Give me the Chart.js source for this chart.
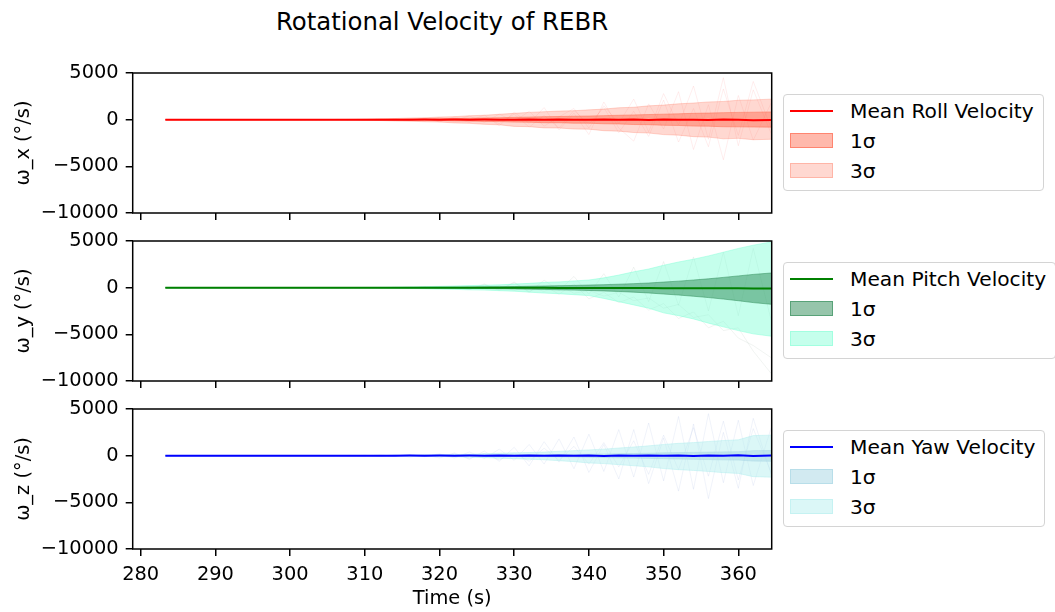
<!DOCTYPE html>
<html>
<head>
<meta charset="utf-8">
<script src="https://cdn.jsdelivr.net/npm/chart.js@4/dist/chart.umd.min.js"></script>
<style>
body{margin:0;background:#fff;font-family:"DejaVu Sans",sans-serif;}
#wrap{position:relative;width:1055px;height:612px;overflow:hidden;}
.panel{position:absolute;left:0;width:774px;}
#title{position:absolute;left:0;width:884px;top:7px;text-align:center;font-size:24.4px;color:#000;}
.legend{position:absolute;left:782.5px;border:1px solid #d4d4d4;border-radius:4px;background:rgba(255,255,255,0.8);padding:0.5px 9px 4px 6.5px;box-sizing:border-box;height:97px;}
.row{height:30px;display:flex;align-items:center;font-size:20.2px;white-space:nowrap;color:#000;}
.sw{width:43px;height:15.6px;box-sizing:border-box;margin-right:17px;flex-shrink:0;}
.ln{width:43px;height:0;border-top:2px solid;margin-right:17px;flex-shrink:0;}
</style>
</head>
<body>
<div id="wrap">
  <div id="title">Rotational Velocity of REBR</div>
  <div class="panel" style="top:42.7px;height:200px;"><canvas id="roll"></canvas></div>
  <div class="panel" style="top:210.7px;height:200px;"><canvas id="pitch"></canvas></div>
  <div class="panel" style="top:378.7px;height:232px;"><canvas id="yaw"></canvas></div>
  <div class="legend" style="top:94px;">
    <div class="row"><div class="ln" style="border-color:#ff0000"></div>Mean Roll Velocity</div>
    <div class="row"><div class="sw" style="background:rgba(255,99,71,0.45);border:1px solid rgba(255,99,71,0.6)"></div>1σ</div>
    <div class="row"><div class="sw" style="background:rgba(255,99,71,0.25);border:1px solid rgba(255,99,71,0.3)"></div>3σ</div>
  </div>
  <div class="legend" style="top:262px;">
    <div class="row"><div class="ln" style="border-color:#008000"></div>Mean Pitch Velocity</div>
    <div class="row"><div class="sw" style="background:rgba(46,139,87,0.5);border:1px solid rgba(46,139,87,0.6)"></div>1σ</div>
    <div class="row"><div class="sw" style="background:rgba(127,255,212,0.45);border:1px solid rgba(127,255,212,0.5)"></div>3σ</div>
  </div>
  <div class="legend" style="top:430px;">
    <div class="row"><div class="ln" style="border-color:#0000ff"></div>Mean Yaw Velocity</div>
    <div class="row"><div class="sw" style="background:rgba(173,216,230,0.55);border:1px solid rgba(173,216,230,0.7)"></div>1σ</div>
    <div class="row"><div class="sw" style="background:rgba(175,238,238,0.45);border:1px solid rgba(175,238,238,0.5)"></div>3σ</div>
  </div>
</div>
<script>
// time samples (s)
const time = [283.3,290,300,306,308,310,312,314,316,318,320,322,324,326,328,330,332,334,336,338,340,342,344,346,348,350,352,354,356,358,360,362,364.4];
const xTicks = [280,290,300,310,320,330,340,350,360];
const yTicks = [-10000,-5000,0,5000];

// roll (deg/s)
const rollMean = [0,0,0,0,0,0,0,0,0,5,-5,10,-10,5,0,-20,10,-15,20,-10,0,30,-20,10,-30,20,-10,0,-40,30,-20,-50,-30];
const roll1Hi = [0,0,0,8,15,25,35,50,65,80,100,120,150,180,210,250,280,320,340,370,390,430,470,510,550,590,630,680,710,750,780,800,830];
const roll1Lo = [0,0,0,-8,-15,-25,-35,-50,-60,-85,-95,-130,-145,-190,-200,-260,-270,-330,-330,-380,-380,-440,-460,-520,-540,-600,-620,-690,-700,-760,-770,-790,-800];
const roll3Hi = [0,0,0,20,40,60,100,120,180,200,280,320,420,470,580,680,780,850,920,960,1050,1130,1280,1330,1480,1560,1700,1780,1900,1950,2080,2120,2200];
const roll3Lo = [0,0,0,-20,-40,-70,-90,-140,-160,-220,-250,-350,-390,-500,-550,-720,-750,-880,-890,-1000,-1020,-1180,-1230,-1380,-1430,-1600,-1660,-1820,-1870,-2050,-2000,-2150,-2100];
const rollRunA = [0,0,0,0,20,-30,60,-80,120,-150,250,-100,400,-300,600,-200,900,-700,300,1200,-900,1500,-400,2200,-1300,2800,-600,3600,-2100,4500,-2800,3200,-1500];
const rollRunB = [0,0,0,0,-10,30,-50,90,-120,180,-260,330,-150,500,-650,800,-400,1300,-1100,700,-1600,1900,-900,-2300,1700,-1000,3000,-3200,1600,-4300,2600,-2200,1800];
const rollRunC = [0,0,0,10,-20,40,-30,70,-60,100,-180,220,-300,200,-420,600,-800,450,-900,1000,-500,1300,-1400,900,-1800,2100,-2400,1200,-2900,3300,-1700,4100,-900];

// pitch (deg/s)
const pitchMean = [0,0,0,0,0,0,0,0,0,0,-5,-5,-10,-10,-15,-15,-20,-20,-25,-30,-30,-35,-40,-40,-45,-50,-55,-60,-65,-70,-75,-80,-85];
const pitch1Hi = [0,0,0,3,5,8,12,18,25,35,45,55,70,85,100,120,150,180,210,240,280,320,370,430,500,600,700,820,950,1100,1260,1420,1570];
const pitch1Lo = [0,0,0,-3,-5,-8,-12,-18,-25,-35,-45,-55,-70,-90,-110,-130,-160,-190,-230,-260,-300,-350,-410,-480,-570,-680,-790,-920,-1060,-1220,-1400,-1600,-1780];
const pitch3Hi = [0,0,0,10,15,25,40,60,80,110,140,180,220,260,300,380,460,560,620,720,820,1050,1350,1700,2000,2400,2750,3050,3400,3800,4200,4550,4900];
const pitch3Lo = [0,0,0,-10,-15,-25,-40,-60,-85,-110,-150,-180,-230,-260,-320,-380,-480,-580,-650,-750,-850,-1150,-1500,-1850,-2200,-2700,-3000,-3350,-3800,-4200,-4600,-4950,-5200];
const pitchRunA = [0,0,0,0,10,-20,30,-10,50,-40,80,-60,150,-100,200,-300,100,-400,250,-600,-300,-900,-500,-1400,-1100,-2200,-1800,-3200,-2900,-4600,-4300,-6800,-9200];
const pitchRunB = [0,0,0,0,-10,20,-30,40,-20,60,-80,100,-200,400,-300,600,-500,800,-300,1200,-700,1500,-1000,2200,-1500,2800,-1900,3300,-2500,3800,-3000,4200,-3500];
const pitchRunC = [0,0,0,0,0,10,-20,30,-50,80,-100,60,-200,300,-150,500,-400,200,-700,400,-1200,-500,-1600,-1000,-2400,-1700,-3300,-2600,-4300,-3600,-5400,-6200,-7500];

// yaw (deg/s)
const yawMean = [0,0,0,0,0,0,0,0,5,-5,10,-10,5,-5,10,-15,20,-10,15,-20,10,-25,20,-15,30,-20,15,-25,30,-20,40,-30,20];
const yaw1Hi = [0,0,0,2,3,5,8,10,15,20,25,30,40,50,65,75,85,95,120,135,155,175,205,230,260,300,330,350,380,405,425,540,550];
const yaw1Lo = [0,0,0,-2,-3,-5,-8,-10,-15,-20,-25,-35,-45,-55,-70,-80,-95,-110,-130,-150,-175,-200,-230,-260,-290,-330,-360,-390,-420,-450,-470,-580,-600];
const yaw3Hi = [0,0,0,5,10,15,25,35,50,70,90,120,150,200,260,300,340,380,470,540,620,700,820,930,1050,1200,1320,1400,1520,1620,1700,2150,2200];
const yaw3Lo = [0,0,0,-5,-10,-15,-25,-35,-50,-70,-95,-120,-160,-210,-270,-320,-380,-440,-540,-640,-780,-850,-960,-1080,-1200,-1380,-1500,-1580,-1690,-1820,-1900,-2250,-2300];
const yawRunA = [0,0,0,0,30,-40,80,-60,120,-100,200,-250,400,-300,700,-500,1200,-900,1800,-1400,2300,-1700,2800,-2300,3500,-2700,4200,-3600,4500,-2900,3800,-3200,3000];
const yawRunB = [0,0,0,0,-20,40,-60,100,-150,80,-250,300,-400,500,-600,900,-1100,1500,-700,2000,-1800,1200,-2500,2800,-3000,1900,-3800,3400,-4600,2500,-3500,4000,-2000];
const yawRunC = [0,0,0,10,-10,30,-50,60,-80,150,-120,200,-300,250,-450,300,-600,800,-500,1000,-900,1400,-1200,1600,-2000,2200,-1500,3000,-2200,3700,-2600,2900,-1800];

Chart.defaults.font.family = 'DejaVu Sans';
Chart.defaults.color = '#000';

const pts = arr => arr.map((v, i) => ({x: time[i], y: v}));

const frame = {
  id: 'frame',
  afterDraw(c) {
    const a = c.chartArea, ctx = c.ctx;
    ctx.save();
    ctx.strokeStyle = '#000';
    ctx.lineWidth = 1.5;
    ctx.strokeRect(a.left, a.top, a.right - a.left, a.bottom - a.top);
    ctx.restore();
  }
};

function band(data, color, fill) {
  return {data: pts(data), borderColor: color, borderWidth: 1, backgroundColor: color,
          fill: fill, pointRadius: 0, tension: 0};
}
function run(data, color) {
  return {data: pts(data), borderColor: color, borderWidth: 0.7, fill: false, pointRadius: 0, tension: 0};
}

function makePanel(id, label, mean, lineColor, hi1, lo1, c1, hi3, lo3, c3, runs, runColor, bottom) {
  return new Chart(document.getElementById(id), {
    type: 'line',
    data: {
      datasets: [
        {data: pts(mean), borderColor: lineColor, borderWidth: 2, fill: false, pointRadius: 0, tension: 0},
        band(hi1, c1, '+1'),
        band(lo1, c1, false),
        band(hi3, c3, '+1'),
        band(lo3, c3, false),
        ...runs.map(r => run(r, runColor))
      ]
    },
    options: {
      responsive: true,
      maintainAspectRatio: false,
      animation: false,
      layout: {padding: {top: 30, left: 0, right: 2.3, bottom: 0}},
      plugins: {legend: {display: false}, tooltip: {enabled: false}},
      scales: {
        x: {
          type: 'linear', min: 278.93, max: 364.47,
          afterBuildTicks: s => { s.ticks = xTicks.map(v => ({value: v})); },
          afterFit: s => { s.height = bottom ? 62 : 30; },
          grid: {display: true, drawOnChartArea: false, drawTicks: true, tickLength: 7, color: '#000', lineWidth: 1.5},
          border: {display: false},
          ticks: {display: bottom, padding: 7, font: {size: 19.4}, maxRotation: 0, callback: v => String(v)},
          title: {display: bottom, text: 'Time (s)', font: {size: 19.4}, padding: {top: 0, bottom: 0}}
        },
        y: {
          min: -10000, max: 5000,
          afterBuildTicks: s => { s.ticks = yTicks.map(v => ({value: v})); },
          afterFit: s => { s.width = 132.7; },
          grid: {display: true, drawOnChartArea: false, drawTicks: true, tickLength: 7, color: '#000', lineWidth: 1.5},
          border: {display: false},
          ticks: {padding: 7, font: {size: 19.4}, callback: v => v < 0 ? '\u2212' + Math.abs(v) : String(v)},
          title: {display: true, text: label, font: {size: 19.4}, padding: {top: 12, bottom: 0}}
        }
      }
    },
    plugins: [frame]
  });
}

makePanel('roll', 'ω_x (°/s)', rollMean, '#ff0000',
  roll1Hi, roll1Lo, 'rgba(255,99,71,0.45)', roll3Hi, roll3Lo, 'rgba(255,99,71,0.25)',
  [rollRunA, rollRunB, rollRunC], 'rgba(255,0,0,0.1)', false);
makePanel('pitch', 'ω_y (°/s)', pitchMean, '#008000',
  pitch1Hi, pitch1Lo, 'rgba(46,139,87,0.5)', pitch3Hi, pitch3Lo, 'rgba(127,255,212,0.45)',
  [pitchRunA, pitchRunB, pitchRunC], 'rgba(90,120,100,0.12)', false);
makePanel('yaw', 'ω_z (°/s)', yawMean, '#0000ff',
  yaw1Hi, yaw1Lo, 'rgba(173,216,230,0.55)', yaw3Hi, yaw3Lo, 'rgba(175,238,238,0.45)',
  [yawRunA, yawRunB, yawRunC], 'rgba(70,110,190,0.12)', true);
</script>
</body>
</html>
